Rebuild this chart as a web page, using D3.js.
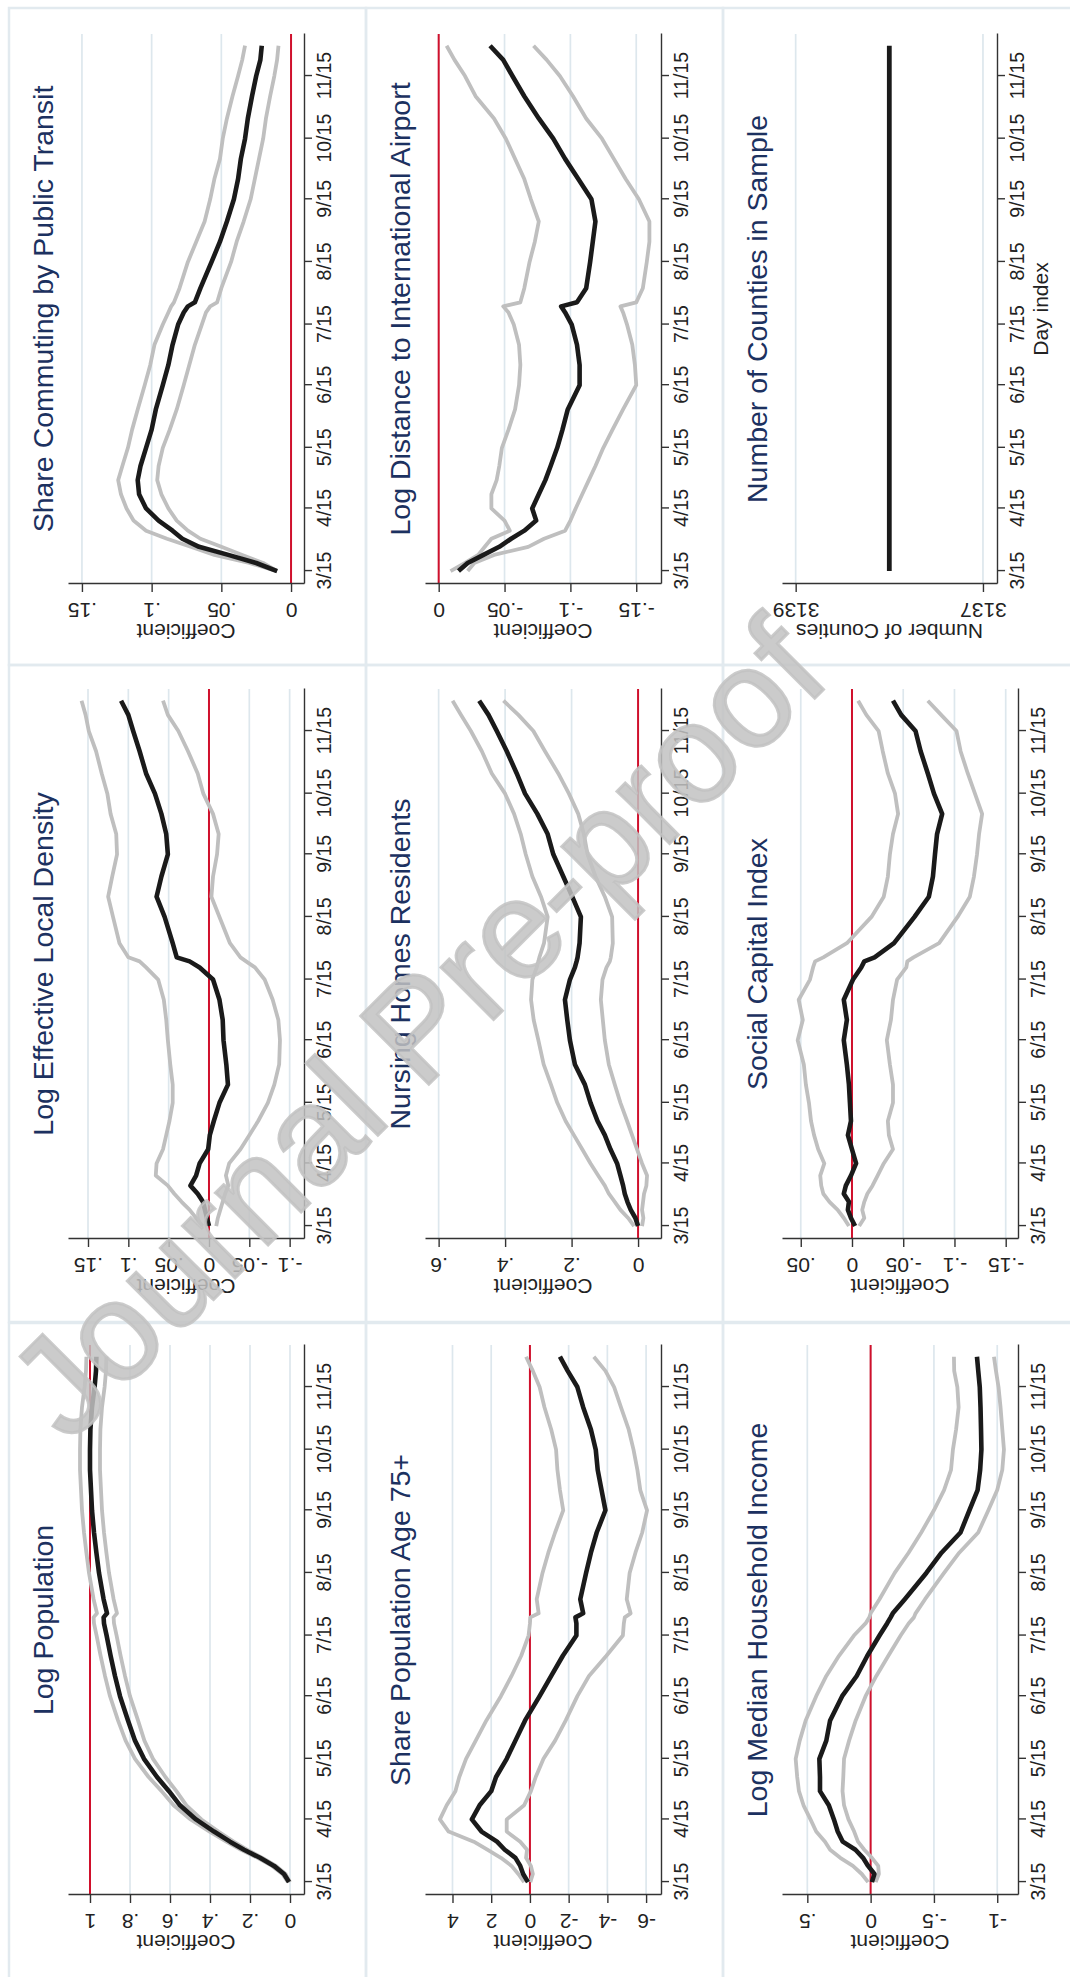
<!DOCTYPE html>
<html>
<head>
<meta charset="utf-8">
<script src="https://cdn.jsdelivr.net/npm/d3@7"></script>
<style>
  body { margin: 0; background: #fff; }
  svg { display: block; }
</style>
</head>
<body>
<svg id="chart"></svg>
<script>
// ---- data (day index counted from 3/15) ----
var days = [0, 4, 8, 12, 16, 20, 25, 31, 38, 45, 52, 61, 70, 80, 92, 102, 112, 122, 128, 131, 133, 140, 153, 163, 173, 184, 194, 204, 214, 224, 235, 245, 253, 260]
var monthDays = [0, 31, 61, 92, 122, 153, 184, 214, 245]
var monthLabels = ["3/15", "4/15", "5/15", "6/15", "7/15", "8/15", "9/15", "10/15", "11/15"]

var titles = ["Log Population", "Log Effective Local Density", "Share Commuting by Public Transit",
              "Share Population Age 75+", "Nursing Homes Residents", "Log Distance to International Airport",
              "Log Median Household Income", "Social Capital Index", "Number of Counties in Sample"]

var popCoef  = [0.005, 0.03, 0.08, 0.15, 0.23, 0.30, 0.38, 0.47, 0.55, 0.605, 0.665, 0.73, 0.775, 0.81, 0.85, 0.875, 0.897, 0.917, 0.93, 0.932, 0.915, 0.932, 0.955, 0.968, 0.98, 0.99, 0.995, 1.0, 1.0, 0.998, 0.99, 0.977, 0.97, 0.968]
var popHigh  = [0.01, 0.038, 0.09, 0.162, 0.245, 0.318, 0.402, 0.497, 0.582, 0.642, 0.707, 0.775, 0.822, 0.86, 0.90, 0.925, 0.947, 0.967, 0.98, 0.982, 0.965, 0.982, 1.005, 1.018, 1.03, 1.04, 1.045, 1.05, 1.05, 1.048, 1.04, 1.027, 1.02, 1.018]
var popLow   = [0.0, 0.022, 0.07, 0.138, 0.215, 0.282, 0.358, 0.443, 0.518, 0.568, 0.623, 0.685, 0.728, 0.76, 0.80, 0.825, 0.847, 0.867, 0.88, 0.882, 0.865, 0.882, 0.905, 0.918, 0.93, 0.94, 0.945, 0.95, 0.95, 0.948, 0.94, 0.927, 0.92, 0.918]

var densCoef = [0.0, 0.0025, 0.005, 0.0075, 0.014, 0.023, 0.016, 0.0116, 0.001, -0.001, -0.006, -0.013, -0.0235, -0.0215, -0.018, -0.017, -0.013, -0.005, 0.0116, 0.024, 0.04, 0.045, 0.055, 0.065, 0.059, 0.051, 0.053, 0.059, 0.067, 0.078, 0.086, 0.094, 0.1, 0.109]
var densHigh = [0.008, 0.016, 0.024, 0.034, 0.043, 0.051, 0.066, 0.065, 0.057, 0.053, 0.049, 0.045, 0.045, 0.048, 0.051, 0.053, 0.056, 0.063, 0.078, 0.086, 0.1, 0.111, 0.119, 0.125, 0.12, 0.114, 0.115, 0.122, 0.126, 0.133, 0.14, 0.149, 0.153, 0.158]
var densLow  = [-0.009, -0.011, -0.014, -0.017, -0.02, -0.024, -0.021, -0.025, -0.039, -0.05, -0.061, -0.073, -0.081, -0.087, -0.088, -0.086, -0.079, -0.069, -0.057, -0.046, -0.039, -0.026, -0.013, -0.003, -0.005, -0.01, -0.012, -0.005, 0.007, 0.014, 0.026, 0.038, 0.051, 0.057]

var transCoef = [0.01, 0.025, 0.045, 0.066, 0.078, 0.085, 0.095, 0.104, 0.109, 0.110, 0.108, 0.104, 0.10, 0.097, 0.092, 0.088, 0.085, 0.081, 0.077, 0.074, 0.069, 0.065, 0.057, 0.051, 0.046, 0.041, 0.038, 0.036, 0.033, 0.031, 0.028, 0.025, 0.022, 0.021]
var transHigh = [0.01, 0.03, 0.055, 0.072, 0.089, 0.104, 0.113, 0.118, 0.122, 0.124, 0.121, 0.117, 0.114, 0.11, 0.105, 0.101, 0.098, 0.092, 0.088, 0.086, 0.084, 0.080, 0.074, 0.068, 0.062, 0.058, 0.055, 0.051, 0.049, 0.046, 0.042, 0.038, 0.035, 0.033]
var transLow  = [0.01, 0.02, 0.035, 0.05, 0.065, 0.074, 0.082, 0.088, 0.093, 0.096, 0.095, 0.092, 0.087, 0.082, 0.077, 0.073, 0.069, 0.064, 0.061, 0.058, 0.053, 0.050, 0.043, 0.039, 0.034, 0.029, 0.026, 0.023, 0.020, 0.018, 0.015, 0.012, 0.010, 0.009]

var ageCoef = [0.1, 0.35, 0.5, 0.75, 1.3, 1.7, 2.5, 3.0, 2.6, 2.0, 1.75, 1.2, 0.75, 0.25, -0.5, -1.1, -1.7, -2.4, -2.4, -2.35, -2.75, -2.6, -2.9, -3.15, -3.45, -3.9, -3.7, -3.5, -3.4, -3.15, -2.75, -2.45, -1.95, -1.55]
var ageHigh = [0.3, 0.6, 0.95, 1.5, 2.2, 2.9, 4.2, 4.65, 4.3, 3.85, 3.65, 3.3, 2.8, 2.25, 1.5, 0.95, 0.45, 0.07, 0.0, -0.02, -0.45, -0.35, -0.65, -0.95, -1.3, -1.72, -1.55, -1.42, -1.35, -1.1, -0.75, -0.5, -0.15, 0.2]
var ageLow  = [-0.02, -0.15, -0.05, 0.2, 0.15, 0.5, 1.2, 1.2, 0.3, -0.05, -0.3, -0.7, -1.3, -1.85, -2.45, -3.05, -3.95, -4.8, -4.85, -4.9, -5.2, -5.0, -5.15, -5.45, -5.8, -6.05, -5.7, -5.55, -5.35, -5.1, -4.7, -4.35, -3.9, -3.3]

var nursCoef = [0.0, 0.008, 0.022, 0.032, 0.04, 0.045, 0.053, 0.063, 0.083, 0.10, 0.122, 0.143, 0.16, 0.19, 0.205, 0.213, 0.22, 0.205, 0.19, 0.185, 0.182, 0.176, 0.172, 0.198, 0.225, 0.255, 0.272, 0.303, 0.34, 0.365, 0.395, 0.425, 0.45, 0.478]
var nursHigh = [0.012, 0.03, 0.053, 0.07, 0.088, 0.1, 0.12, 0.143, 0.168, 0.193, 0.218, 0.243, 0.262, 0.284, 0.3, 0.314, 0.322, 0.318, 0.305, 0.3, 0.297, 0.283, 0.272, 0.292, 0.318, 0.338, 0.353, 0.373, 0.4, 0.44, 0.47, 0.503, 0.533, 0.558]
var nursLow  = [-0.012, -0.016, -0.012, -0.015, -0.018, -0.025, -0.027, -0.012, 0.003, 0.018, 0.033, 0.053, 0.07, 0.088, 0.1, 0.106, 0.112, 0.107, 0.095, 0.085, 0.082, 0.076, 0.078, 0.1, 0.128, 0.152, 0.163, 0.18, 0.208, 0.24, 0.28, 0.315, 0.36, 0.405]

var airCoef = [-0.015, -0.022, -0.034, -0.046, -0.055, -0.065, -0.074, -0.071, -0.076, -0.081, -0.085, -0.09, -0.094, -0.098, -0.107, -0.107, -0.105, -0.101, -0.096, -0.093, -0.105, -0.112, -0.115, -0.117, -0.119, -0.116, -0.106, -0.096, -0.087, -0.076, -0.065, -0.056, -0.049, -0.039]
var airHigh = [-0.009, -0.02, -0.03, -0.035, -0.04, -0.054, -0.05, -0.04, -0.04, -0.044, -0.046, -0.048, -0.053, -0.058, -0.061, -0.062, -0.061, -0.057, -0.053, -0.049, -0.062, -0.065, -0.069, -0.073, -0.076, -0.07, -0.065, -0.058, -0.051, -0.042, -0.028, -0.02, -0.012, -0.006]
var airLow  = [-0.022, -0.027, -0.042, -0.068, -0.08, -0.096, -0.1, -0.104, -0.109, -0.114, -0.119, -0.125, -0.132, -0.14, -0.15, -0.149, -0.147, -0.143, -0.14, -0.138, -0.15, -0.155, -0.158, -0.16, -0.16, -0.152, -0.142, -0.133, -0.124, -0.112, -0.102, -0.092, -0.082, -0.072]

var incCoef = [-0.01, -0.03, 0.02, 0.06, 0.12, 0.22, 0.26, 0.29, 0.33, 0.40, 0.40, 0.405, 0.35, 0.32, 0.225, 0.11, 0.026, -0.07, -0.13, -0.158, -0.175, -0.27, -0.44, -0.56, -0.71, -0.78, -0.845, -0.865, -0.875, -0.872, -0.868, -0.862, -0.85, -0.84]
var incHigh = [0.02, 0.07, 0.14, 0.24, 0.32, 0.36, 0.43, 0.475, 0.53, 0.566, 0.58, 0.592, 0.56, 0.513, 0.43, 0.35, 0.25, 0.132, 0.04, 0.01, 0.0, -0.07, -0.19, -0.3, -0.4, -0.5, -0.58, -0.635, -0.65, -0.675, -0.695, -0.685, -0.66, -0.658]
var incLow  = [-0.04, -0.065, -0.06, -0.01, 0.05, 0.1, 0.13, 0.175, 0.21, 0.222, 0.216, 0.21, 0.17, 0.118, 0.04, -0.045, -0.14, -0.237, -0.3, -0.342, -0.355, -0.43, -0.58, -0.7, -0.85, -0.93, -1.0, -1.04, -1.053, -1.04, -1.026, -1.01, -0.99, -0.974]

var socCoef = [-0.003, 0.001, 0.004, 0.003, 0.008, 0.006, 0.001, -0.004, 0.0, 0.004, 0.001, 0.002, 0.003, 0.005, 0.008, 0.005, 0.008, -0.001, -0.009, -0.012, -0.022, -0.041, -0.061, -0.075, -0.079, -0.081, -0.083, -0.088, -0.08, -0.074, -0.067, -0.062, -0.048, -0.04]
var socHigh = [0.003, 0.008, 0.014, 0.022, 0.028, 0.03, 0.031, 0.027, 0.033, 0.037, 0.04, 0.042, 0.045, 0.047, 0.053, 0.048, 0.052, 0.041, 0.038, 0.036, 0.028, 0.005, -0.019, -0.031, -0.035, -0.037, -0.04, -0.045, -0.042, -0.035, -0.03, -0.026, -0.014, -0.006]
var socLow  = [-0.007, -0.012, -0.01, -0.012, -0.015, -0.02, -0.025, -0.031, -0.04, -0.036, -0.035, -0.04, -0.04, -0.037, -0.034, -0.038, -0.04, -0.044, -0.053, -0.054, -0.06, -0.085, -0.103, -0.115, -0.119, -0.122, -0.124, -0.127, -0.12, -0.113, -0.106, -0.102, -0.087, -0.074]

var countyDays = [0, 260]
var countyValues = [3138, 3138]

// y axis ranges, ticks and labels per panel
var yRanges = [[-0.07, 1.11], [-0.1178, 0.1748], [-0.0093, 0.160],
               [-6.77, 5.42], [-0.069, 0.641], [-0.1688, 0.0104],
               [-1.164, 0.70], [-0.162, 0.0683], [3136.85, 3139.146]]
var yTicks = [[0, .2, .4, .6, .8, 1], [-.1, -.05, 0, .05, .1, .15], [0, .05, .1, .15],
              [-6, -4, -2, 0, 2, 4], [0, .2, .4, .6], [-.15, -.1, -.05, 0],
              [-1, -.5, 0, .5], [-.15, -.1, -.05, 0, .05], [3137, 3139]]
var yTickLabels = [["0", ".2", ".4", ".6", ".8", "1"], ["-.1", "-.05", "0", ".05", ".1", ".15"], ["0", ".05", ".1", ".15"],
                   ["-6", "-4", "-2", "0", "2", "4"], ["0", ".2", ".4", ".6"], ["-.15", "-.1", "-.05", "0"],
                   ["-1", "-.5", "0", ".5"], ["-.15", "-.1", "-.05", "0", ".05"], ["3137", "3139"]]
var refLines = [1, 0, 0, 0, 0, 0, 0, 0, null]

var bands = [[popLow, popHigh, popCoef], [densLow, densHigh, densCoef], [transLow, transHigh, transCoef],
             [ageLow, ageHigh, ageCoef], [nursLow, nursHigh, nursCoef], [airLow, airHigh, airCoef],
             [incLow, incHigh, incCoef], [socLow, socHigh, socCoef], null]

// ---- layout (drawn in the figure's own frame, then turned a quarter turn) ----
var font = "'Liberation Sans', Arial, Helvetica, sans-serif"
var axisLeftX = [82, 738, 1393]
var boxLeft = [-3, 655, 1312]
var rowTop = [9, 366, 723]
var plotW = 550

var svg = d3.select("#chart").attr("width", 1070).attr("height", 1977)
svg.append("rect").attr("width", 1070).attr("height", 1977).attr("fill", "#fff")

var fig = svg.append("g").attr("transform", "translate(0,1977) rotate(-90)")

titles.forEach(function(title, i) {
    var r = Math.floor(i / 3), c = i % 3
    var x0 = axisLeftX[c]
    var top = rowTop[r] + 59
    var bottom = rowTop[r] + (i == 8 ? 274 : 295)

    fig.append("rect")
       .attr("x", boxLeft[c]).attr("y", rowTop[r])
       .attr("width", 657).attr("height", 357)
       .attr("fill", "none").attr("stroke", "#e2eaef").attr("stroke-width", 2.5)

    var xScale = d3.scaleLinear().domain([-6.4, 265.8]).range([x0, x0 + plotW])
    var yScale = d3.scaleLinear().domain(yRanges[i]).range([bottom, top])

    var g = fig.append("g")

    // gridlines
    g.selectAll(".grid")
     .data(yTicks[i])
     .join("line")
     .attr("x1", x0).attr("x2", x0 + plotW)
     .attr("y1", d => yScale(d)).attr("y2", d => yScale(d))
     .attr("stroke", "#dde7ed").attr("stroke-width", 1.7)

    if (refLines[i] !== null) {
        g.append("line")
         .attr("x1", x0).attr("x2", x0 + plotW)
         .attr("y1", yScale(refLines[i])).attr("y2", yScale(refLines[i]))
         .attr("stroke", "#d0102c").attr("stroke-width", 2)
    }

    var lineGen = d3.line()
        .x(d => xScale(d[0]))
        .y(d => yScale(d[1]))

    if (bands[i]) {
        bands[i].forEach(function(vals, k) {
            g.append("path")
             .attr("d", lineGen(days.map((d, j) => [d, vals[j]])))
             .attr("fill", "none")
             .attr("stroke", k < 2 ? "#bfbfbf" : "#1a1a1a")
             .attr("stroke-width", k < 2 ? 3.8 : 4.6)
             .attr("stroke-linejoin", "round")
        })
    } else {
        g.append("path")
         .attr("d", lineGen(countyDays.map((d, j) => [d, countyValues[j]])))
         .attr("fill", "none").attr("stroke", "#1a1a1a").attr("stroke-width", 4.8)
    }

    // axes
    var xAxis = g.append("g")
        .attr("transform", `translate(0,${bottom})`)
        .call(d3.axisBottom(xScale).tickValues(monthDays)
              .tickFormat((d, j) => monthLabels[j]).tickSize(8).tickSizeOuter(0).tickPadding(5))
    xAxis.selectAll("text")
        .style("font-family", font).style("font-size", "19.5px").attr("fill", "#222")

    var yAxis = g.append("g")
        .attr("transform", `translate(${x0},0)`)
        .call(d3.axisLeft(yScale).tickValues(yTicks[i])
              .tickFormat((d, j) => yTickLabels[i][j]).tickSize(8).tickSizeOuter(0))
    yAxis.selectAll("text")
        .attr("x", null).attr("dy", null)
        .attr("text-anchor", "middle")
        .attr("transform", "translate(-19,0) rotate(-90)")
        .style("font-family", font).style("font-size", "21px").attr("fill", "#222")

    ;[xAxis, yAxis].forEach(function(a) {
        a.attr("color", "#333")
        a.selectAll("line, path").attr("stroke-width", 1.4)
    })

    // axis title
    g.append("text")
     .attr("text-anchor", "middle")
     .attr("transform", `translate(${x0 - 40},${(top + bottom) / 2}) rotate(-90)`)
     .style("font-family", font).style("font-size", "21px").attr("fill", "#222")
     .text(i == 8 ? "Number of Counties" : "Coefficient")

    // panel title
    g.append("text")
     .attr("text-anchor", "middle")
     .attr("transform", `translate(${x0 + plotW / 2},${rowTop[r] + 44})`)
     .style("font-family", font).style("font-size", "28.5px").attr("fill", "#1c3160")
     .text(title)

    if (i == 8) {
        g.append("text")
         .attr("text-anchor", "middle")
         .attr("transform", `translate(${x0 + plotW / 2},${rowTop[r] + 325})`)
         .style("font-family", font).style("font-size", "21px").attr("fill", "#222")
         .text("Day index")
    }
})

// watermark
svg.append("text")
   .attr("text-anchor", "middle")
   .attr("transform", "translate(451,1062) rotate(-45)")
   .style("font-family", font).style("font-size", "140px")
   .attr("fill", "#c2c2c2").attr("fill-opacity", 0.85)
   .attr("stroke", "#c2c2c2").attr("stroke-opacity", 0.85).attr("stroke-width", 3)
   .text("Journal Pre-proof")
</script>
</body>
</html>
